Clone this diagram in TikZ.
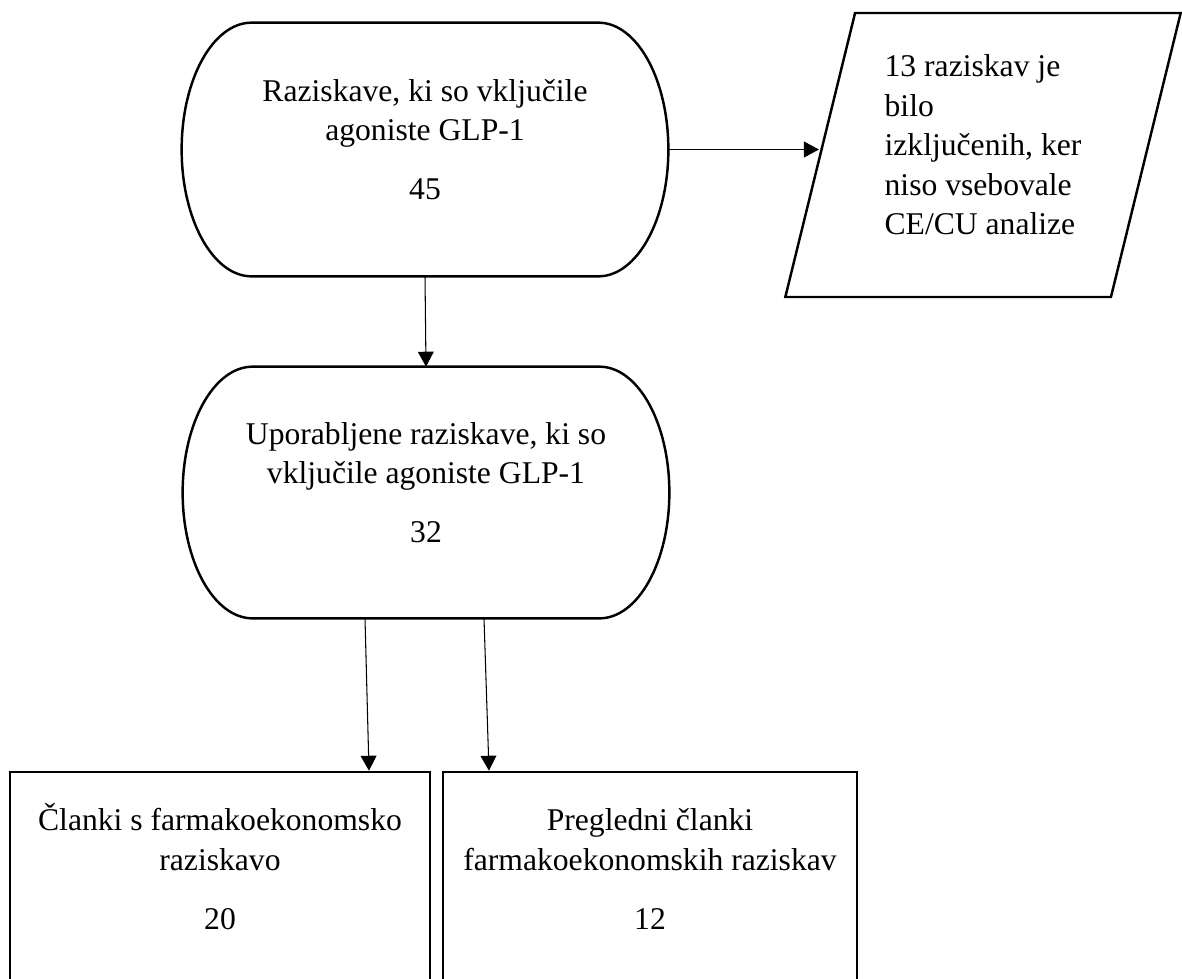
\documentclass[tikz,border=0pt]{standalone}
\usepackage{fontspec}
\setmainfont{Liberation Serif}
\usetikzlibrary{arrows.meta,shapes.geometric,calc}

%% outline of a terminal node: flat top and bottom, half-ellipse ends
\newcommand{\stadiumframe}[1]{%
  \draw[line width=1.4pt]
    let \p1=(#1.north), \p2=(#1.south), \n1={0.5*(\y1-\y2)} in
    ([xshift=1.4cm]#1.north west) -- ([xshift=-1.4cm]#1.north east)
    arc[start angle=90, end angle=-90, x radius=1.4cm, y radius=\n1]
    -- ([xshift=1.4cm]#1.south west)
    arc[start angle=270, end angle=90, x radius=1.4cm, y radius=\n1]
    -- cycle;}

\begin{document}
\begin{tikzpicture}[
  every node/.style={align=center, font=\fontsize{18}{22.5}\selectfont},
  terminal/.style={rectangle, minimum width=9.72cm, minimum height=5.06cm},
  result/.style={rectangle, draw, line width=1.5pt, minimum height=4.56cm},
  arrow/.style={-{Triangle[length=8.5pt,width=9pt]}, line width=0.6pt, black}
]
\useasboundingbox (0,0) rectangle (23.64,-19.56);
\clip (0,0) rectangle (23.64,-19.56);

%% Row 0: all studies + excluded ones
\node[terminal] (studies) at (8.50,-2.99)
  {Raziskave, ki so vključile\\agoniste GLP-1\\[11pt]45\\[-11pt]\mbox{}};
\stadiumframe{studies}

\node[
  trapezium, draw, line width=1.4pt,
  trapezium left angle=75, trapezium right angle=105,
  trapezium stretches=true,
  minimum width=7.92cm, minimum height=5.68cm,
  align=left
] (excluded) at (19.66,-3.10)
  {13 raziskav je\\bilo\\izključenih, ker\\niso vsebovale\\CE/CU analize\\[-11pt]\mbox{}};

%% Row 1: studies used
\node[terminal, minimum height=5.02cm] (used) at (8.52,-9.85)
  {Uporabljene raziskave, ki so\\vključile agoniste GLP-1\\[11pt]32\\[-11pt]\mbox{}};
\stadiumframe{used}

%% Row 2: article types (cut off at the bottom)
\node[result, minimum width=8.40cm] (articles) at (4.40,-17.72)
  {\strut Članki s farmakoekonomsko\\raziskavo\\[11pt]20\\\mbox{}};
\node[result, minimum width=8.28cm] (reviews) at (13.00,-17.72)
  {\strut Pregledni članki\\farmakoekonomskih raziskav\\[11pt]12\\\mbox{}};

%% Arrows
\draw[arrow] (studies.east) -- (studies.east -| excluded.west);
\draw[arrow] (studies.south) -- (used.north);
\draw[arrow] ([xshift=-1.22cm]used.south) -- ([xshift=2.98cm]articles.north);
\draw[arrow] ([xshift=1.16cm]used.south) -- ([xshift=-3.22cm]reviews.north);

\end{tikzpicture}
\end{document}
